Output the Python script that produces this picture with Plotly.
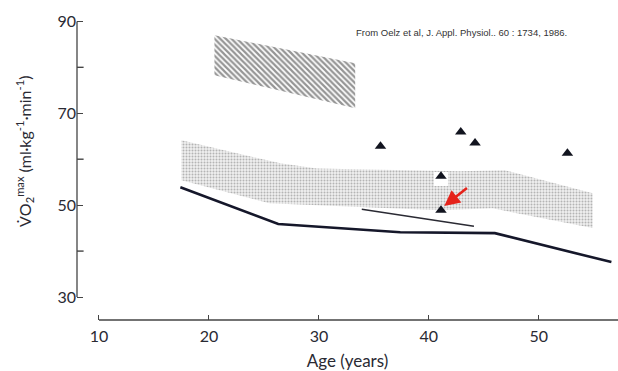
import plotly.graph_objects as go

# ---------------- data ----------------
# hatched region (top, young elite)
hatch_age = [20.5, 33.3, 33.3, 20.5]
hatch_vo2 = [87.0, 80.9, 71.1, 78.3]

# dotted band: upper and lower boundaries
band_upper_age = [17.5, 26.5, 29.8, 37.4, 42.8, 46.9, 54.9]
band_upper_vo2 = [64.1, 59.1, 58.0, 57.6, 57.4, 57.6, 52.6]
band_lower_age = [17.5, 25.5, 33.7, 41.0, 45.8, 54.9]
band_lower_vo2 = [55.4, 50.4, 49.6, 48.9, 49.3, 45.0]

# thick solid line
line_age = [17.4, 26.3, 37.4, 46.0, 56.6]
line_vo2 = [53.9, 45.9, 44.1, 43.9, 37.6]

# thin short line
thin_age = [33.9, 44.1]
thin_vo2 = [49.1, 45.4]

# triangles (individual subjects)
tri_age = [35.6, 42.9, 44.2, 52.6, 41.1, 41.1]
tri_vo2 = [62.8, 65.9, 63.5, 61.3, 56.3, 48.9]

# red arrow (tail -> tip)
arrow_tail = (43.6, 54.0)
arrow_tip = (41.4, 49.8)

x_ticks = [10, 20, 30, 40, 50]
y_ticks = [30, 50, 70, 90]
y_minor_ticks = [40, 60, 80]

X_RANGE = [8, 57.2]
Y_RANGE = [25, 90.3]
TICK_LEN_X_UNITS = 0.6  # about 6-7 px at this scale

FONT = "Lato"
INK = "#2a2a33"
AX = "#444"

fig = go.Figure()

# hatched region
fig.add_trace(go.Scatter(
    x=hatch_age + [hatch_age[0]], y=hatch_vo2 + [hatch_vo2[0]],
    mode="lines", line=dict(width=0), fill="toself",
    fillcolor="rgba(0,0,0,0)",
    fillpattern=dict(shape="\\", size=4, solidity=0.55,
                     fgcolor="#2b2b2b", bgcolor="white"),
    hoverinfo="skip", showlegend=False))

# dotted band polygon
band_x = band_upper_age + band_lower_age[::-1]
band_y = band_upper_vo2 + band_lower_vo2[::-1]
fig.add_trace(go.Scatter(
    x=band_x + [band_x[0]], y=band_y + [band_y[0]],
    mode="lines", line=dict(width=0), fill="toself",
    fillcolor="rgba(0,0,0,0)",
    fillpattern=dict(shape=".", size=3, solidity=0.35,
                     fgcolor="#7a7a7a", bgcolor="#efefef"),
    hoverinfo="skip", showlegend=False))

# white patch around upper triangle inside the band
fig.add_trace(go.Scatter(x=[tri_age[4]], y=[tri_vo2[4] - 0.6], mode="markers",
                         marker=dict(symbol="square", size=14, color="white"),
                         hoverinfo="skip", showlegend=False))

# thick line
fig.add_trace(go.Scatter(x=line_age, y=line_vo2, mode="lines",
                         line=dict(color="#15172a", width=2.6),
                         hoverinfo="skip", showlegend=False))
# thin line
fig.add_trace(go.Scatter(x=thin_age, y=thin_vo2, mode="lines",
                         line=dict(color="#2a2a33", width=1.5),
                         hoverinfo="skip", showlegend=False))
# triangles
fig.add_trace(go.Scatter(x=tri_age, y=tri_vo2, mode="markers",
                         marker=dict(symbol="triangle-up", size=10,
                                     color="#12141f"),
                         hoverinfo="skip", showlegend=False))

# axis lines
fig.add_shape(type="line", xref="paper", yref="y", x0=0, x1=0,
              y0=y_ticks[0], y1=y_ticks[-1],
              line=dict(color=AX, width=1.3))
fig.add_shape(type="line", xref="x", yref="paper", x0=x_ticks[0], x1=X_RANGE[1],
              y0=0, y1=0, line=dict(color=AX, width=1.3))
# unlabeled intermediate y ticks
for v in y_minor_ticks:
    fig.add_shape(type="line", xref="x", yref="y",
                  x0=X_RANGE[0], x1=X_RANGE[0] + TICK_LEN_X_UNITS, y0=v, y1=v,
                  line=dict(color=AX, width=1.4), layer="above")

# red arrow
fig.add_annotation(x=arrow_tip[0], y=arrow_tip[1], ax=arrow_tail[0], ay=arrow_tail[1],
                   xref="x", yref="y", axref="x", ayref="y", text="",
                   showarrow=True, arrowhead=2, arrowsize=1.2, arrowwidth=2.6,
                   arrowcolor="#e5231b")

# source note
fig.add_annotation(xref="paper", yref="paper", x=(354 - 77) / 541, y=(320 - 32) / 300,
                   xanchor="left", yanchor="middle", showarrow=False,
                   text="From Oelz et al, J. Appl. Physiol.. 60 : 1734, 1986.",
                   font=dict(family="Liberation Sans", size=9.5, color="#333"))

# y axis title
fig.add_annotation(xref="paper", yref="paper", x=0, y=(320 - 152) / 300,
                   xshift=-52, textangle=-90, showarrow=False,
                   xanchor="center", yanchor="middle",
                   text="V\u0307O<sub>2</sub><sup>max</sup> (ml\u00b7kg<sup>-1</sup>\u00b7min<sup>-1</sup>)",
                   font=dict(family=FONT, size=16, color=INK))

fig.update_layout(
    width=618, height=371,
    margin=dict(l=77, r=0, t=20, b=51),
    paper_bgcolor="white", plot_bgcolor="white",
    font=dict(family=FONT, size=16, color=INK),
    xaxis=dict(range=X_RANGE, tickvals=x_ticks, ticks="inside", ticklen=5,
               tickcolor=AX, tickwidth=1.2, showline=False, showgrid=False,
               zeroline=False, ticklabelstandoff=5,
               title=dict(text="Age (years)", standoff=14,
                          font=dict(family=FONT, size=17, color=INK)),
               tickfont=dict(family=FONT, size=16, color=INK)),
    yaxis=dict(range=Y_RANGE, tickmode="array", tickvals=y_ticks,
               ticks="inside", ticklen=6, tickcolor=AX, tickwidth=1.2,
               showline=False, showgrid=False, zeroline=False,
               tickfont=dict(family=FONT, size=16, color=INK)),
)

fig.write_html("out.html")
